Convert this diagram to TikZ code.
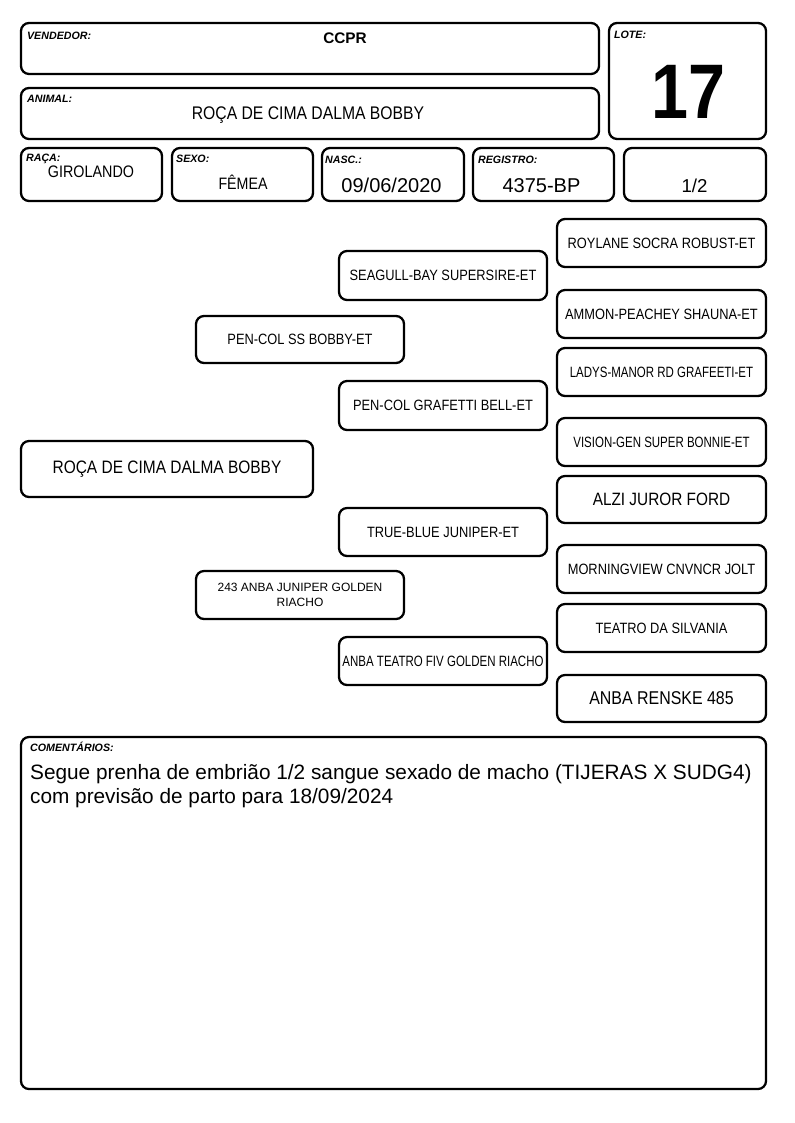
\documentclass[tikz,border=0pt]{standalone}
\usepackage{fontspec}
\setmainfont{Liberation Sans}
\newfontfamily\narrowfont{Liberation Sans}[FakeStretch=0.86]
\newfontfamily\narrowerfont{Liberation Sans}[FakeStretch=0.77]
\usetikzlibrary{fit}
\begin{document}
\begin{tikzpicture}[x=0.75pt, y=-0.75pt,
  box/.style={draw, line width=1.7pt, rounded corners=6pt, inner sep=0pt},
  lbl/.style={font=\bfseries\itshape\fontsize{8}{9}\selectfont, anchor=base west, inner sep=0pt},
  val/.style={anchor=base, inner sep=0pt},
  ptxt/.style={inner sep=0pt, align=center, font=\narrowfont\fontsize{11.2}{13}\selectfont}]
\useasboundingbox (0,0) rectangle (794,1123);

% Header
\node[box, fit={(21,23) (599,74)}] (vend) {};
\node[box, fit={(609,23) (766,139)}] (lote) {};
\node[box, fit={(21,88) (599,139)}] (animal) {};
\node[box, fit={(21,148) (162,201)}] (raca) {};
\node[box, fit={(172,148) (313,201)}] (sexo) {};
\node[box, fit={(322,148) (464,201)}] (nasc) {};
\node[box, fit={(473,148) (614,201)}] (reg) {};
\node[box, fit={(624,148) (766,201)}] (grau) {};

% Labels
\node[lbl] (vendlbl) at ([shift={(7,18)}]vend.north west) {VENDEDOR:};
\node[lbl] (lotelbl) at ([shift={(6,17)}]lote.north west) {LOTE:};
\node[lbl] (animallbl) at ([shift={(7,16)}]animal.north west) {ANIMAL:};
\node[lbl] (racalbl) at ([shift={(6,15)}]raca.north west) {RAÇA:};
\node[lbl] (sexolbl) at ([shift={(5,16)}]sexo.north west) {SEXO:};
\node[lbl] (nasclbl) at ([shift={(4,17)}]nasc.north west) {NASC.:};
\node[lbl] (reglbl) at ([shift={(6,17)}]reg.north west) {REGISTRO:};

% Values
\node[val, font=\bfseries\fontsize{11.5}{13}\selectfont] (vendval) at (345,43.3) {CCPR};
\node[val, font=\narrowfont\bfseries\fontsize{58}{60}\selectfont] (loteval) at (688,119) {17};
\node[val, font=\narrowfont\fontsize{13.7}{15}\selectfont] (animalval) at (308,120) {ROÇA DE CIMA DALMA BOBBY};
\node[val, font=\narrowfont\fontsize{12.5}{14}\selectfont] (racaval) at (91,178) {GIROLANDO};
\node[val, font=\narrowfont\fontsize{12.4}{14}\selectfont] (sexoval) at (243,190) {FÊMEA};
\node[val, font=\fontsize{15}{17}\selectfont] (nascval) at (391.5,192.7) {09/06/2020};
\node[val, font=\fontsize{15}{17}\selectfont] (regval) at (541.5,192.7) {4375-BP};
\node[val, font=\fontsize{14}{16}\selectfont] (grauval) at (694.5,192.7) {1/2};

% Pedigree boxes
\node[box, fit={(21,441) (313,497)}] (p0) {};
\node[box, fit={(196,316) (404,363)}] (p1) {};
\node[box, fit={(196,571) (404,619)}] (p2) {};
\node[box, fit={(339,251) (547,300)}] (p11) {};
\node[box, fit={(339,381) (547,430)}] (p12) {};
\node[box, fit={(339,508) (547,556)}] (p21) {};
\node[box, fit={(339,637) (547,685)}] (p22) {};
\node[box, fit={(557,219) (766,267)}] (p111) {};
\node[box, fit={(557,290) (766,338)}] (p112) {};
\node[box, fit={(557,348) (766,396)}] (p121) {};
\node[box, fit={(557,418) (766,466)}] (p122) {};
\node[box, fit={(557,476) (766,523)}] (p211) {};
\node[box, fit={(557,545) (766,593)}] (p212) {};
\node[box, fit={(557,604) (766,652)}] (p221) {};
\node[box, fit={(557,675) (766,722)}] (p222) {};

% Pedigree names
\node[ptxt, font=\narrowfont\fontsize{13.5}{15}\selectfont] (p0t) at (p0) {ROÇA DE CIMA DALMA BOBBY};
\node[ptxt] (p1t) at (p1) {PEN-COL SS BOBBY-ET};
\node[ptxt, font=\fontsize{9}{11.2}\selectfont] (p2t) at (p2) {243 ANBA JUNIPER GOLDEN\\RIACHO};
\node[ptxt] (p11t) at (p11) {SEAGULL-BAY SUPERSIRE-ET};
\node[ptxt] (p12t) at (p12) {PEN-COL GRAFETTI BELL-ET};
\node[ptxt] (p21t) at (p21) {TRUE-BLUE JUNIPER-ET};
\node[ptxt, font=\narrowerfont\fontsize{11.2}{13}\selectfont] (p22t) at (p22) {ANBA TEATRO FIV GOLDEN RIACHO};
\node[ptxt] (p111t) at (p111) {ROYLANE SOCRA ROBUST-ET};
\node[ptxt] (p112t) at (p112) {AMMON-PEACHEY SHAUNA-ET};
\node[ptxt, font=\narrowerfont\fontsize{11.2}{13}\selectfont] (p121t) at (p121) {LADYS-MANOR RD GRAFEETI-ET};
\node[ptxt, font=\narrowerfont\fontsize{11.2}{13}\selectfont] (p122t) at (p122) {VISION-GEN SUPER BONNIE-ET};
\node[ptxt, font=\narrowfont\fontsize{13.4}{15}\selectfont] (p211t) at (p211) {ALZI JUROR FORD};
\node[ptxt] (p212t) at (p212) {MORNINGVIEW CNVNCR JOLT};
\node[ptxt] (p221t) at (p221) {TEATRO DA SILVANIA};
\node[ptxt, font=\narrowfont\fontsize{13.9}{15}\selectfont] (p222t) at (p222) {ANBA RENSKE 485};

% Comments
\node[box, fit={(21,737) (766,1089)}] (coment) {};
\node[lbl] (comentlbl) at ([shift={(10,16)}]coment.north west) {COMENTÁRIOS:};
\node[anchor=north west, inner sep=0pt, align=left, font=\fontsize{15.6}{18}\selectfont] (comenttxt) at ([shift={(10,28)}]coment.north west)
  {Segue prenha de embrião 1/2 sangue sexado de macho (TIJERAS X SUDG4)\\com previsão de parto para 18/09/2024};
\end{tikzpicture}
\end{document}
